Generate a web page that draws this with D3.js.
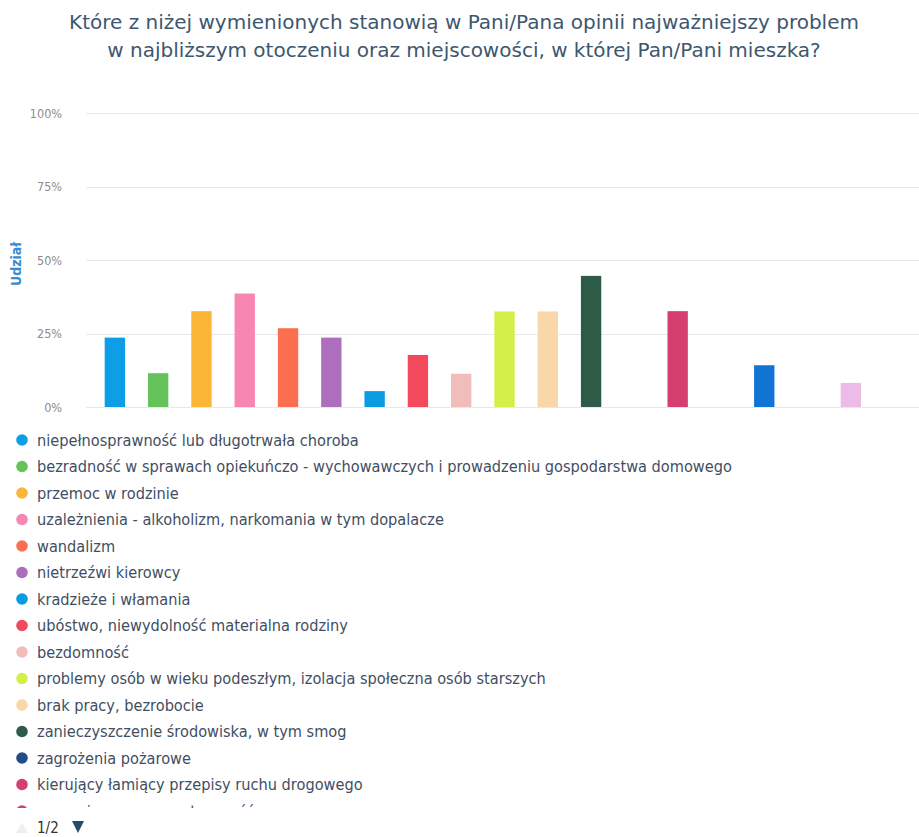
<!DOCTYPE html>
<html><head><meta charset="utf-8">
<script src="https://cdn.jsdelivr.net/npm/d3@7/dist/d3.min.js"></script>
<style>
html,body{margin:0;padding:0;background:#fff;}
svg{display:block;font-family:"DejaVu Sans Condensed","DejaVu Sans",sans-serif;}
</style></head>
<body>
<script>
const titleLines = [
  "Które z niżej wymienionych stanowią w Pani/Pana opinii najważniejszy problem",
  "w najbliższym otoczeniu oraz miejscowości, w której Pan/Pani mieszka?"
];
const seriesNames = [
  "niepełnosprawność lub długotrwała choroba",
  "bezradność w sprawach opiekuńczo - wychowawczych i prowadzeniu gospodarstwa domowego",
  "przemoc w rodzinie",
  "uzależnienia - alkoholizm, narkomania w tym dopalacze",
  "wandalizm",
  "nietrzeźwi kierowcy",
  "kradzieże i włamania",
  "ubóstwo, niewydolność materialna rodziny",
  "bezdomność",
  "problemy osób w wieku podeszłym, izolacja społeczna osób starszych",
  "brak pracy, bezrobocie",
  "zanieczyszczenie środowiska, w tym smog",
  "zagrożenia pożarowe",
  "kierujący łamiący przepisy ruchu drogowego",
  "zorganizowana przestępczość",
  "(strona 2) 16",
  "(strona 2) 17",
  "(strona 2) 18",
  "(strona 2) 19"
];
const seriesValues = [23.6, 11.5, 32.6, 38.6, 26.8, 23.6, 5.4, 17.7, 11.3, 32.5, 32.5, 44.6, 0, 32.6, 0, 14.2, 0, 8.2, 0];
const seriesColors = ["#0c9fe6","#66c25a","#fbb637","#f886b2","#fb6f50","#ad6fbd","#0b9be0","#f3495c","#f1bdbb","#d5ef4a","#f9d7a9","#2e5b47","#1f4d86","#d43f70","#c84b5c","#1173d3","#9ccf6a","#edbbe8","#7fc6e8"];
const yTicks = [0, 25, 50, 75, 100];
const yTickLabels = ["0%", "25%", "50%", "75%", "100%"];
const yAxisTitle = "Udział";
const pagerText = "1/2";

const W = 919, H = 837;
const svg = d3.select("body").append("svg").attr("width", W).attr("height", H);

// title
svg.append("g").selectAll("text").data(titleLines).join("text")
  .attr("x", 464).attr("y", (d, i) => 29 + i * 28)
  .attr("text-anchor", "middle")
  .attr("font-family", "'DejaVu Sans',sans-serif")
  .attr("fill", "#3e576f").attr("font-size", 20)
  .text(d => d);

const plotL = 86, plotR = 919, plotT = 113, plotB = 407;
const y = d3.scaleLinear().domain([0, 100]).range([plotB, plotT]);
const x = d3.scaleBand().domain(d3.range(seriesValues.length)).range([93, 916]).paddingInner(0.53).paddingOuter(0.27);

// gridlines
svg.append("g").selectAll("line").data(yTicks).join("line")
  .attr("x1", plotL).attr("x2", plotR)
  .attr("y1", d => Math.round(y(d)) + 0.5).attr("y2", d => Math.round(y(d)) + 0.5)
  .attr("stroke", "#e8e8e8").attr("stroke-width", 1);

// y axis labels
const yAxis = d3.axisLeft(y).tickValues(yTicks).tickFormat((d, i) => yTickLabels[i]).tickSize(0).tickPadding(0);
const ya = svg.append("g").attr("transform", `translate(62,0)`).call(yAxis);
ya.select(".domain").remove();
ya.selectAll("text").attr("fill", "#8c8c8c").attr("font-size", 12.5)
  .attr("font-family", "'DejaVu Sans Condensed','DejaVu Sans',sans-serif");

// axis title
svg.append("text").attr("transform", `translate(21,${(plotT + plotB) / 2 + 4}) rotate(-90)`)
  .attr("text-anchor", "middle").attr("fill", "#3a8bd3").attr("font-weight", "bold").attr("font-size", 14)
  .text(yAxisTitle);

// bars
svg.append("g").selectAll("rect").data(seriesValues).join("rect")
  .attr("x", (d, i) => x(i)).attr("width", x.bandwidth())
  .attr("y", d => y(d)).attr("height", d => y(0) - y(d))
  .attr("fill", (d, i) => seriesColors[i]);

// legend (page 1, clipped)
svg.append("clipPath").attr("id", "legclip").append("rect").attr("x", 0).attr("y", 425).attr("width", W).attr("height", 383);
const leg = svg.append("g").attr("clip-path", "url(#legclip)");
const legItems = leg.selectAll("g").data(seriesNames.slice(0, 15)).join("g")
  .attr("transform", (d, i) => `translate(0,${440 + i * 26.5})`);
legItems.append("circle").attr("cx", 22).attr("cy", 0).attr("r", 5.8).attr("fill", (d, i) => seriesColors[i]);
legItems.append("text").attr("x", 37).attr("y", 5.7).attr("fill", "#3f4e63").attr("font-size", 16.2).text(d => d);

// pager
svg.append("path").attr("d", "M16,833 L22,823 L28,833 Z").attr("fill", "#eeeeee");
svg.append("text").attr("x", 37).attr("y", 833).attr("fill", "#333").attr("font-size", 15).text(pagerText);
svg.append("path").attr("d", "M72,821 L84,821 L78,833 Z").attr("fill", "#274b6d");
</script>
</body></html>
